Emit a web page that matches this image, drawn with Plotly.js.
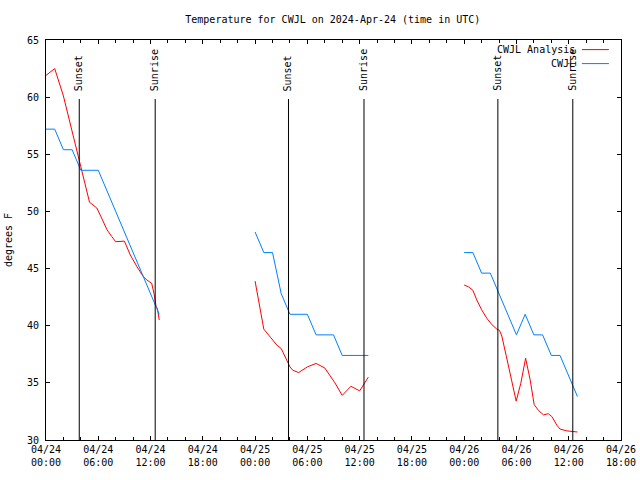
<!DOCTYPE html>
<html>
<head>
<meta charset="utf-8">
<script src="https://cdn.plot.ly/plotly-3.0.1.min.js"></script>
<style>html,body{margin:0;padding:0;background:#fff;}#chart{width:640px;height:480px;}</style>
</head>
<body>
<div id="chart"></div>
<script>
// CWJL Analysis (red)
const analysisTime1 = ["2024-04-24 00:00","2024-04-24 01:00","2024-04-24 02:00","2024-04-24 03:00","2024-04-24 04:00","2024-04-24 05:00","2024-04-24 05:50","2024-04-24 06:20","2024-04-24 07:00","2024-04-24 07:33","2024-04-24 08:00","2024-04-24 09:00","2024-04-24 09:40","2024-04-24 10:25","2024-04-24 11:10","2024-04-24 11:35","2024-04-24 12:08","2024-04-24 12:24","2024-04-24 12:38","2024-04-24 12:47","2024-04-24 13:00"];
const analysisTemp1 = [61.9,62.5,60.1,57.1,53.9,50.8,50.3,49.5,48.4,47.8,47.35,47.4,46.2,45.2,44.3,44.0,43.7,42.8,41.7,41.5,40.5];
const analysisTime2 = ["2024-04-25 00:00","2024-04-25 01:00","2024-04-25 01:45","2024-04-25 02:30","2024-04-25 03:00","2024-04-25 03:30","2024-04-25 04:00","2024-04-25 04:20","2024-04-25 05:00","2024-04-25 06:00","2024-04-25 07:00","2024-04-25 08:00","2024-04-25 08:40","2024-04-25 09:10","2024-04-25 10:00","2024-04-25 11:00","2024-04-25 12:00","2024-04-25 12:35","2024-04-25 13:00"];
const analysisTemp2 = [43.9,39.7,39.0,38.3,38.0,37.2,36.4,36.1,35.9,36.4,36.7,36.3,35.6,35.0,33.9,34.7,34.3,35.0,35.5];
const analysisTime3 = ["2024-04-26 00:00","2024-04-26 00:30","2024-04-26 01:00","2024-04-26 01:27","2024-04-26 02:00","2024-04-26 02:36","2024-04-26 03:10","2024-04-26 03:45","2024-04-26 04:03","2024-04-26 04:19","2024-04-26 04:49","2024-04-26 05:21","2024-04-26 05:58","2024-04-26 06:30","2024-04-26 07:03","2024-04-26 07:34","2024-04-26 08:02","2024-04-26 08:31","2024-04-26 09:06","2024-04-26 09:40","2024-04-26 10:04","2024-04-26 10:38","2024-04-26 11:01","2024-04-26 11:47","2024-04-26 12:32","2024-04-26 13:00"];
const analysisTemp3 = [43.56,43.4,43.1,42.25,41.4,40.65,40.1,39.7,39.6,39.1,37.4,35.5,33.4,34.96,37.15,35.3,33.1,32.6,32.2,32.3,32.05,31.3,30.95,30.8,30.7,30.7];

// CWJL observations (blue)
const obsTime1 = ["2024-04-24 00:00","2024-04-24 01:00","2024-04-24 02:00","2024-04-24 03:00","2024-04-24 04:00","2024-04-24 05:00","2024-04-24 06:00","2024-04-24 13:00"];
const obsTemp1 = [57.2,57.2,55.4,55.4,53.6,53.6,53.6,41.0];
const obsTime2 = ["2024-04-25 00:00","2024-04-25 01:00","2024-04-25 02:00","2024-04-25 03:00","2024-04-25 04:00","2024-04-25 05:00","2024-04-25 06:00","2024-04-25 07:00","2024-04-25 08:00","2024-04-25 09:00","2024-04-25 10:00","2024-04-25 11:00","2024-04-25 12:00","2024-04-25 13:00"];
const obsTemp2 = [48.2,46.4,46.4,42.8,41.0,41.0,41.0,39.2,39.2,39.2,37.4,37.4,37.4,37.4];
const obsTime3 = ["2024-04-26 00:00","2024-04-26 01:00","2024-04-26 02:00","2024-04-26 03:00","2024-04-26 04:00","2024-04-26 05:00","2024-04-26 06:00","2024-04-26 07:00","2024-04-26 08:00","2024-04-26 09:00","2024-04-26 10:00","2024-04-26 11:00","2024-04-26 12:00","2024-04-26 13:00"];
const obsTemp3 = [46.4,46.4,44.6,44.6,42.8,41.0,39.2,41.0,39.2,39.2,37.4,37.4,35.6,33.8];

// Sun events
const sunTimes = ["2024-04-24 03:49","2024-04-24 12:32","2024-04-25 03:50","2024-04-25 12:30","2024-04-26 03:52","2024-04-26 12:28"];
const sunLabels = ["Sunset","Sunrise","Sunset","Sunrise","Sunset","Sunrise"];

// Axis ticks
const xTickVals = ["2024-04-24 00:00","2024-04-24 06:00","2024-04-24 12:00","2024-04-24 18:00","2024-04-25 00:00","2024-04-25 06:00","2024-04-25 12:00","2024-04-25 18:00","2024-04-26 00:00","2024-04-26 06:00","2024-04-26 12:00","2024-04-26 18:00"];
const xTickText = ["04/24<br>00:00","04/24<br>06:00","04/24<br>12:00","04/24<br>18:00","04/25<br>00:00","04/25<br>06:00","04/25<br>12:00","04/25<br>18:00","04/26<br>00:00","04/26<br>06:00","04/26<br>12:00","04/26<br>18:00"];
const yTickVals = [30,35,40,45,50,55,60,65];

const seriesNames = ["CWJL Analysis","CWJL"];
const seriesColors = ["#ff0000","#0080ff"];

const FONT = "DejaVu Sans Mono, Liberation Mono, monospace";

function line(x, y, i) {
  return {x: x, y: y, type: "scatter", mode: "lines", name: seriesNames[i],
          line: {color: seriesColors[i], width: 1}, showlegend: false, hoverinfo: "skip"};
}
const traces = [
  line(analysisTime1, analysisTemp1, 0), line(analysisTime2, analysisTemp2, 0), line(analysisTime3, analysisTemp3, 0),
  line(obsTime1, obsTemp1, 1), line(obsTime2, obsTemp2, 1), line(obsTime3, obsTemp3, 1)
];

const shapes = [];
const annotations = [];
sunTimes.forEach((t, i) => {
  shapes.push({type: "line", xref: "x", yref: "paper", x0: t, x1: t, y0: 0, y1: 0.8525,
               line: {color: "#000", width: 1}});
  annotations.push({xref: "x", yref: "paper", x: t, y: 0.8675, text: sunLabels[i], textangle: -90,
                    showarrow: false, xanchor: "center", yanchor: "bottom",
                    font: {family: FONT, size: 10, color: "#000"}});
});
// legend (gnuplot style: text then sample)
const legY = [0.976, 0.941];
seriesNames.forEach((n, i) => {
  annotations.push({xref: "paper", yref: "paper", x: 0.923, y: legY[i], text: n, showarrow: false,
                    xanchor: "right", yanchor: "middle", font: {family: FONT, size: 10, color: "#000"}});
  shapes.push({type: "line", xref: "paper", yref: "paper", x0: 0.932, x1: 0.979, y0: legY[i], y1: legY[i],
               line: {color: seriesColors[i], width: 1}});
});

const layout = {
  width: 640, height: 480,
  margin: {l: 46, r: 19, t: 40, b: 40},
  paper_bgcolor: "#fff", plot_bgcolor: "#fff",
  font: {family: FONT, size: 10, color: "#000"},
  title: {text: "Temperature for CWJL on 2024-Apr-24 (time in UTC)", x: 0.52, xanchor: "center",
          y: 0.96, yanchor: "middle", font: {family: FONT, size: 10, color: "#000"}},
  xaxis: {type: "date", range: ["2024-04-24 00:00", "2024-04-26 18:00"],
          tickmode: "array", tickvals: xTickVals, ticktext: xTickText,
          ticks: "inside", ticklen: 4, tickcolor: "#000", mirror: "ticks", showline: true,
          linecolor: "#000", linewidth: 1, showgrid: false, zeroline: false,
          minor: {dtick: 7200000, ticks: "inside", ticklen: 3, tickcolor: "#000", showgrid: false},
          tickfont: {family: FONT, size: 10, color: "#000"}},
  yaxis: {range: [30, 65], tickmode: "array", tickvals: yTickVals,
          ticks: "inside", ticklen: 4, tickcolor: "#000", mirror: "ticks", showline: true,
          linecolor: "#000", linewidth: 1, showgrid: false, zeroline: false, ticklabelstandoff: 4,
          tickfont: {family: FONT, size: 10, color: "#000"},
          title: {text: "degrees F", standoff: 12, font: {family: FONT, size: 10, color: "#000"}}},
  shapes: shapes,
  annotations: annotations,
  showlegend: false
};

Plotly.newPlot("chart", traces, layout, {staticPlot: true, displayModeBar: false});
</script>
</body>
</html>
